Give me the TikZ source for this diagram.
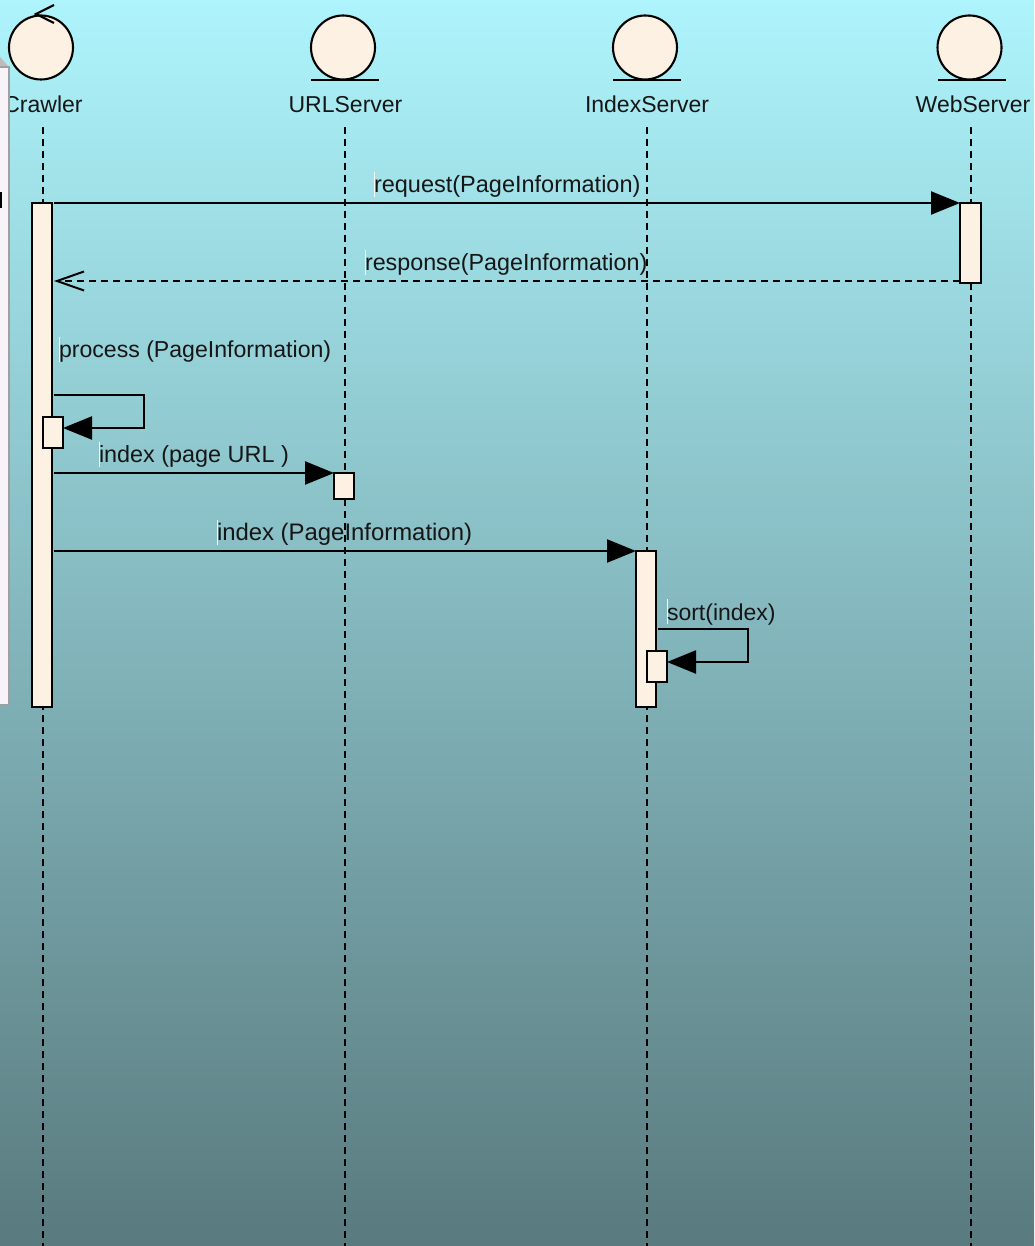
\documentclass[tikz,border=0pt]{standalone}
\usepackage{fontspec}
\setmainfont{Liberation Sans}
\usetikzlibrary{arrows.meta}
\definecolor{topc}{HTML}{AEF4FC}
\definecolor{botc}{HTML}{597A7E}
\definecolor{cream}{HTML}{FDF1E3}
\definecolor{notefill}{HTML}{F7F3F8}
\definecolor{notedge}{HTML}{A0A0A0}
\definecolor{ink}{HTML}{161616}
\tikzset{
  actorbody/.style={circle,draw=black,fill=cream,line width=2.1pt,minimum size=64pt,inner sep=0pt,outer sep=0pt},
  groundline/.style={draw=black,line width=2.2pt},
  lifename/.style={anchor=base,inner sep=0pt,outer sep=0pt,text=ink,font=\fontsize{23}{27}\selectfont},
  lifeline/.style={draw=black,line width=2.3pt,dash pattern=on 7pt off 5pt},
  activation/.style={rectangle,draw=black,fill=cream,line width=2.2pt,inner sep=0pt,outer sep=0pt},
  msg/.style={draw=black,line width=2.3pt,-{Triangle[length=29pt,width=23pt]}},
  reply/.style={draw=black,line width=2.3pt,dash pattern=on 7pt off 5pt,-{Straight Barb[length=27pt,width=19pt,line width=2pt]}},
  msglabel/.style={anchor=base west,inner sep=0pt,outer sep=0pt,text=ink,font=\fontsize{#1}{27}\selectfont},
  msglabel/.default=23.4,
  caretline/.style={draw=white,line width=0.9pt},
}
\begin{document}
\begin{tikzpicture}[x=1pt,y=-1pt]
\useasboundingbox (0,0) rectangle (1034,1246);
\shade[top color=topc,bottom color=botc] (0,0) rectangle (1034,1246);
\coordinate (lifetop) at (0,127);
\coordinate (lifebot) at (0,1246);
% lifeline heads
\node[actorbody] (crawlerhead) at (41,47.5) {};
\node[actorbody] (urlhead) at (343,47.5) {};
\node[actorbody] (indexhead) at (645,47.5) {};
\node[actorbody] (webhead) at (969.5,47.5) {};
\coordinate (crawlertip) at (36,14);
\coordinate (crawlerarma) at (54,5);
\coordinate (crawlerarmb) at (54,23);
\draw[groundline] (crawlerarma) -- (crawlertip) -- (crawlerarmb);
\draw[groundline] ([xshift=-32pt,yshift=-0.5pt]urlhead.south) -- ([xshift=36pt,yshift=-0.5pt]urlhead.south);
\draw[groundline] ([xshift=-32pt,yshift=-0.5pt]indexhead.south) -- ([xshift=36pt,yshift=-0.5pt]indexhead.south);
\draw[groundline] ([xshift=-32pt,yshift=-0.5pt]webhead.south) -- ([xshift=36pt,yshift=-0.5pt]webhead.south);
\node[lifename] (crawlername) at (43,113) {Crawler};
\node[lifename] (urlname) at (345.5,113) {URLServer};
\node[lifename] (indexname) at (647,113) {IndexServer};
\node[lifename] (webname) at (973,113) {WebServer};
% note, cut off by the left edge
\fill[notedge!70] (0,57) -- (9,67) -- (0,67) -- cycle;
\draw[draw=notedge,fill=notefill,line width=2pt] (-5,67) rectangle (9,705);
\fill[black] (0,192) rectangle (2,208);
% lifelines
\coordinate (crawlercol) at (43,0);
\coordinate (urlcol) at (345,0);
\coordinate (indexcol) at (647,0);
\coordinate (webcol) at (971,0);
\draw[lifeline] (crawlercol |- lifetop) -- (crawlercol |- lifebot);
\draw[lifeline] (urlcol |- lifetop) -- (urlcol |- lifebot);
\draw[lifeline] (indexcol |- lifetop) -- (indexcol |- lifebot);
\draw[lifeline] (webcol |- lifetop) -- (webcol |- lifebot);
% activations
\node[activation,minimum width=20pt,minimum height=504pt] (crawleract) at (42,455) {};
\node[activation,minimum width=20pt,minimum height=31pt] (crawlerself) at (53,432.5) {};
\node[activation,minimum width=20pt,minimum height=26pt] (urlact) at (344,486) {};
\node[activation,minimum width=20pt,minimum height=156pt] (indexact) at (646,629) {};
\node[activation,minimum width=20pt,minimum height=31pt] (indexself) at (657,666.5) {};
\node[activation,minimum width=21pt,minimum height=80pt] (webact) at (970.5,243) {};
% messages
\coordinate (replyrow) at (0,281);
\coordinate (selfrowa) at (0,395);
\coordinate (selfrowb) at (0,428);
\coordinate (selfcol) at (144,0);
\coordinate (urlrow) at (0,473);
\coordinate (sortrowa) at (0,629);
\coordinate (sortrowb) at (0,662);
\coordinate (sortcol) at (748,0);
\draw[msg,shorten <=2pt] (crawleract.north east) -- (webact.north west);
\draw[reply,shorten >=2pt] (webact.west |- replyrow) -- (crawleract.east |- replyrow);
\draw[msg,shorten <=2pt] (crawleract.east |- selfrowa) -- (selfcol |- selfrowa) -- (selfcol |- selfrowb) -- (crawlerself.east |- selfrowb);
\draw[msg,shorten <=2pt] (crawleract.east |- urlrow) -- (urlact.north west);
\draw[msg,shorten <=2pt] (crawleract.east |- indexact.north) -- (indexact.north west);
\draw[msg,shorten <=2pt] (indexact.east |- sortrowa) -- (sortcol |- sortrowa) -- (sortcol |- sortrowb) -- (indexself.east |- sortrowb);
% labels
\draw[caretline] (374.5,172) -- (374.5,197);
\node[msglabel=23.5] (reqlabel) at (374,192.5) {request(PageInformation)};
\draw[caretline] (365.5,250) -- (365.5,275);
\node[msglabel=23.3] (resplabel) at (365,270.5) {response(PageInformation)};
\draw[caretline] (59.5,337) -- (59.5,362);
\node[msglabel=23.1] (proclabel) at (59,357.5) {process (PageInformation)};
\draw[caretline] (99.5,442) -- (99.5,467);
\node[msglabel] (indexurllabel) at (99,462.5) {index (page URL )};
\draw[caretline] (217.5,520) -- (217.5,545);
\node[msglabel=23.9] (indexpagelabel) at (217,540.5) {index (PageInformation)};
\draw[caretline] (667.5,599) -- (667.5,624);
\node[msglabel=23] (sortlabel) at (667,620) {sort(index)};
\end{tikzpicture}
\end{document}
